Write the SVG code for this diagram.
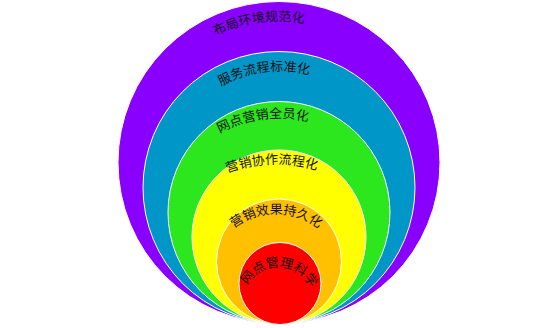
<svg xmlns="http://www.w3.org/2000/svg" width="558" height="328" viewBox="0 0 558 328">
<style>
.ring{stroke:#ffffff;stroke-width:1}
.lbl{font-family:"Noto Sans CJK SC","Noto Sans",sans-serif;font-size:13px;fill:#111111;text-anchor:middle}
</style>
<defs>
<path id="p1" d="M134 166 A145 145 0 0 1 424 166"/>
<path id="p2" d="M160 190 A119 119 0 0 1 398 190"/>
<path id="p3" d="M155 242 A124 124 0 0 1 403 242"/>
<path id="p4" d="M140 300 A136 136 0 0 1 412 300"/>
<path id="p5" d="M206 284 A70 70 0 0 1 346 284"/>
<path id="p6" d="M243 302 A35 35 0 0 1 313 302"/>
</defs>
<g id="n1"><circle class="ring" cx="279" cy="162.5" r="161" fill="#8a00ff"/></g>
<g id="n2"><circle class="ring" cx="279" cy="187.5" r="136" fill="#0096c8"/></g>
<g id="n3"><circle class="ring" cx="279" cy="212.5" r="111" fill="#2ce61e"/></g>
<g id="n4"><circle class="ring" cx="279" cy="237" r="87" fill="#ffff00"/></g>
<g id="n5"><circle class="ring" cx="279" cy="261.5" r="62.5" fill="#ffc000"/></g>
<g id="n6"><circle class="ring" cx="280" cy="283.5" r="41" fill="#ff0000"/></g>
<g id="labels">
<text class="lbl"><textPath href="#p1" startOffset="207.4">布局环境规范化</textPath></text>
<text class="lbl"><textPath href="#p2" startOffset="171.5">服务流程标准化</textPath></text>
<text class="lbl"><textPath href="#p3" startOffset="178.4">网点营销全员化</textPath></text>
<text class="lbl"><textPath href="#p4" startOffset="209.3">营销协作流程化</textPath></text>
<text class="lbl"><textPath href="#p5" startOffset="110">营销效果持久化</textPath></text>
<text class="lbl"><textPath href="#p6" startOffset="56.3">网点管理科学</textPath></text>
</g>
<g id="connectors"></g>
</svg>
